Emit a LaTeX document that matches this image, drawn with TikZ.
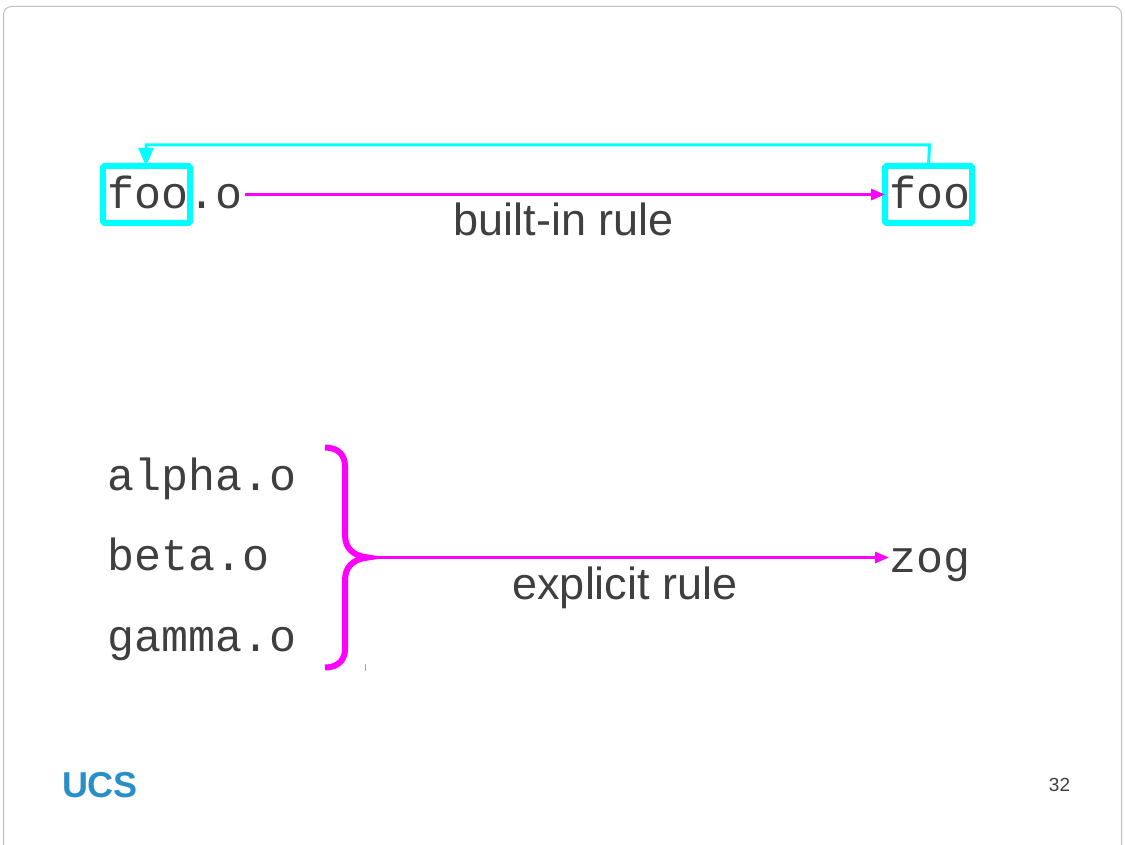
\documentclass[tikz,border=0pt]{standalone}
\usepackage{fontspec}
\setmainfont{Liberation Sans}
\setmonofont{Liberation Mono}
\definecolor{ink}{HTML}{3F3F3F}
\definecolor{cyanline}{HTML}{00FFFF}
\definecolor{pinkline}{HTML}{FF00FF}
\definecolor{logoblue}{HTML}{2A8FC6}
\usetikzlibrary{arrows.meta}

\begin{document}
\begin{tikzpicture}[
	x=1pt, y=-1pt,
	inner sep=0pt,
	outer sep=0pt,
	code/.style={
		text=ink,
		anchor=base west,
		font=\fontsize{45}{45}\ttfamily
	},
	label/.style={
		text=ink,
		anchor=base,
		font=\fontsize{45}{45}\selectfont
	},
	hilite/.style={
		draw=cyanline,
		line width=6pt,
		rounded corners=1.5pt
	},
	back/.style={
		draw=cyanline,
		line width=3pt,
		-{Triangle[length=18pt,width=15pt]}
	},
	rule/.style={
		draw=pinkline,
		line width=3pt,
		-{Triangle[length=14pt,width=11pt]}
	},
	brace/.style={
		draw=pinkline,
		line width=6pt
	}
	]
	\useasboundingbox (0,0) rectangle (1125,845);
	\draw [black!25, line width=1pt, rounded corners=8pt] (3.5,6.5) -- (1121.5,6.5) -- (1121.5,900) -- (3.5,900) -- cycle;

	\node [code] (FooO) at (107,209) {foo.o};
	\node [code] (Foo) at (889,209) {foo};
	\node [hilite, minimum width=87pt, minimum height=57pt] (BoxO) at (146.5,194.5) {};
	\node [hilite, minimum width=87pt, minimum height=57pt] (BoxFoo) at (928.5,194.5) {};
	\node [label] (Builtin) at (564,236) {built-in rule};

	\draw [rule] (FooO.base east |- 0,194.5) ++(3,0) -- (BoxFoo.west);
	\draw [back] (BoxFoo.north) -- (929.5,145) -- (146,145) -- (BoxO.north -| 146,0);

	\node [code] (Alpha) at (107,490) {alpha.o};
	\node [code] (Beta) at (107,570) {beta.o};
	\node [code] (Gamma) at (107,651) {gamma.o};
	\node [code] (Zog) at (889,572) {zog};
	\node [label] (Explicit) at (625,599) {explicit rule};

	\coordinate (BraceTop) at (325,447.5);
	\coordinate (BraceTip) at (368,557.5);
	\coordinate (BraceEnd) at (325,667.5);
	\draw [brace] (BraceTop) .. controls (338,447.5) and (345,455) .. (345,466) -- (345,535)
		.. controls (345,548) and (353,556) .. (BraceTip)
		.. controls (353,559) and (345,567) .. (345,580) -- (345,649)
		.. controls (345,660) and (338,667.5) .. (BraceEnd);
	\draw [rule] (BraceTip) -- (Zog.west |- BraceTip);
	\draw [pinkline!60, line width=1pt] (365,664) -- (365,671);

	\node [anchor=base west, text=logoblue, font=\fontsize{36}{36}\bfseries] (Logo) at (62,797) {UCS};
	\node [anchor=base, text=ink, font=\fontsize{19}{19}\rmfamily] (Page) at (1059.5,791) {32};
\end{tikzpicture}
\end{document}
